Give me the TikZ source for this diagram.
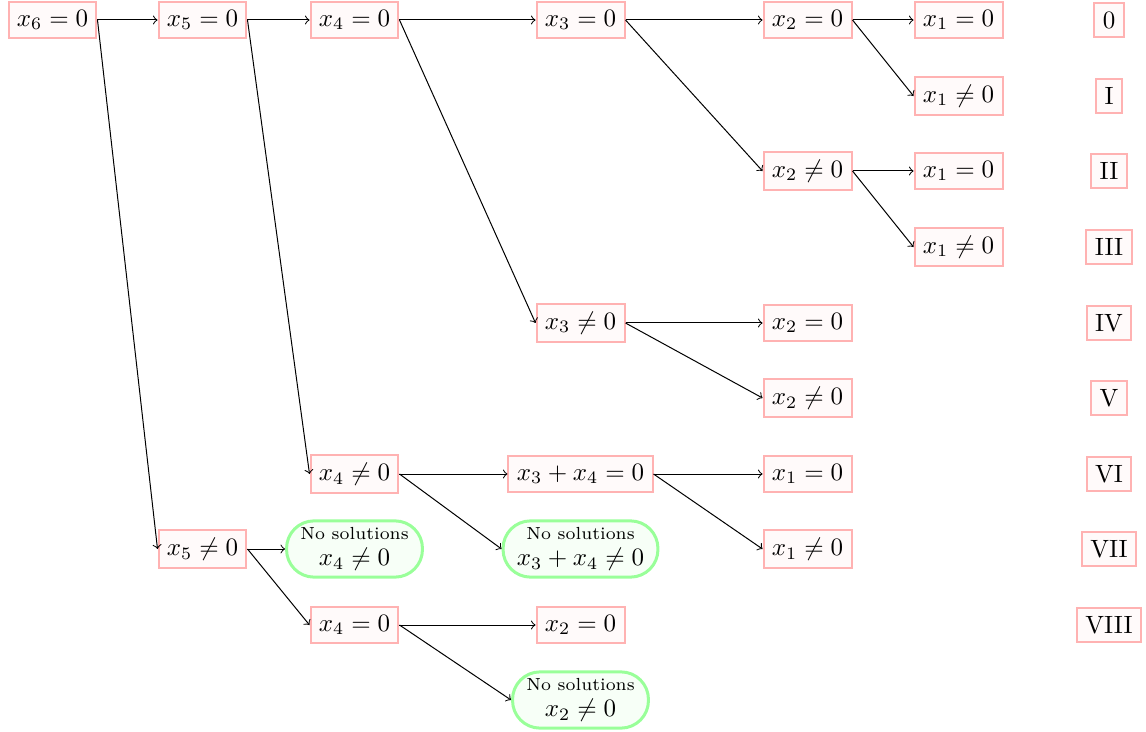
\documentclass[tikz,border=0pt]{standalone}
\usepackage{amsmath}
\begin{document}
\begin{tikzpicture}[x=0.4pt,y=-0.4pt,
  cond/.style={draw=red!30,fill=red!2,line width=0.8pt,inner sep=3.33pt},
  nosol/.style={draw=green!40,fill=green!3,line width=1.2pt,rounded corners=11pt,align=center,inner xsep=5.5pt,inner ysep=2pt,minimum height=22.5pt},
  arr/.style={->,line width=0.4pt}]
\useasboundingbox (0,0) rectangle (1146,732);
% columns: 52.5, 202.5, 354.5, 580.5, 807.5, 958.5, 1109
\node[cond] (a) at (52.5,20) {$x_6=0$};
\node[cond] (b1) at (202.5,20) {$x_5=0$};
\node[cond] (b2) at (202.5,549) {$x_5\neq0$};
\node[cond] (c1) at (354.5,20) {$x_4=0$};
\node[cond] (c2) at (354.5,474) {$x_4\neq0$};
\node[nosol] (c3) at (354.5,549) {{\scriptsize No solutions}\\[-1.5pt]$x_4\neq0$};
\node[cond] (c4) at (354.5,625) {$x_4=0$};
\node[cond] (d1) at (580.5,20) {$x_3=0$};
\node[cond] (d2) at (580.5,323) {$x_3\neq0$};
\node[cond] (d3) at (580.5,474) {$x_3+x_4=0$};
\node[nosol] (d4) at (580.5,549) {{\scriptsize No solutions}\\[-1.5pt]$x_3+x_4\neq0$};
\node[cond] (d5) at (580.5,625) {$x_2=0$};
\node[nosol] (d6) at (580.5,700) {{\scriptsize No solutions}\\[-1.5pt]$x_2\neq0$};
\node[cond] (e1) at (807.5,20) {$x_2=0$};
\node[cond] (e2) at (807.5,171) {$x_2\neq0$};
\node[cond] (e3) at (807.5,323) {$x_2=0$};
\node[cond] (e4) at (807.5,398) {$x_2\neq0$};
\node[cond] (e5) at (807.5,474) {$x_1=0$};
\node[cond] (e6) at (807.5,549) {$x_1\neq0$};
\node[cond] (f1) at (958.5,20) {$x_1=0$};
\node[cond] (f2) at (958.5,96) {$x_1\neq0$};
\node[cond] (f3) at (958.5,171) {$x_1=0$};
\node[cond] (f4) at (958.5,247) {$x_1\neq0$};
\node[cond] (r0) at (1109,20) {0};
\node[cond] (r1) at (1109,96) {I};
\node[cond] (r2) at (1109,171) {II};
\node[cond] (r3) at (1109,247) {III};
\node[cond] (r4) at (1109,323) {IV};
\node[cond] (r5) at (1109,398) {V};
\node[cond] (r6) at (1109,474) {VI};
\node[cond] (r7) at (1109,549) {VII};
\node[cond] (r8) at (1109,625) {VIII};
\foreach \s/\t in {a/b1,a/b2,b1/c1,b1/c2,c1/d1,c1/d2,d1/e1,d1/e2,e1/f1,e1/f2,e2/f3,e2/f4,d2/e3,d2/e4,c2/d3,c2/d4,d3/e5,d3/e6,b2/c3,b2/c4,c4/d5,c4/d6}
  \draw[arr] (\s.east) -- (\t.west);
\end{tikzpicture}
\end{document}
